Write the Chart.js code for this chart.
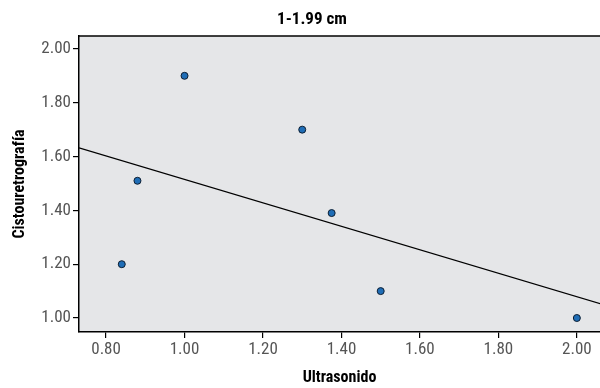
<!DOCTYPE html>
<html>
<head>
<meta charset="utf-8">
<script src="https://cdn.jsdelivr.net/npm/chart.js@4"></script>
<style>
  html, body { margin: 0; padding: 0; background: #fff; overflow: hidden; }
  #wrap { width: 600px; height: 388px; }
</style>
</head>
<body>
<div id="wrap"><canvas id="scatter"></canvas></div>
<script>
// values
var ultrasonido = [0.84, 0.88, 1.00, 1.30, 1.375, 1.50, 2.00];
var cistouretro = [1.20, 1.51, 1.90, 1.70, 1.39, 1.10, 1.00];
var fitX = [0.731, 2.06];
var fitY = [1.632, 1.053];
var xTicks = [0.80, 1.00, 1.20, 1.40, 1.60, 1.80, 2.00];
var yTicks = [1.00, 1.20, 1.40, 1.60, 1.80, 2.00];
var chartTitle = '1-1.99 cm';

var narrow = "'Liberation Sans Narrow', 'Roboto Condensed', 'Liberation Sans', sans-serif";

var points = ultrasonido.map(function (x, i) { return { x: x, y: cistouretro[i] }; });
var fitLine = fitX.map(function (x, i) { return { x: x, y: fitY[i] }; });

// grey plot area, top border and the title
var frame = {
    id: 'frame',
    beforeDraw: function (chart) {
        var c = chart.ctx, a = chart.chartArea;
        c.save();
        c.fillStyle = '#e5e6e8';
        c.fillRect(a.left, a.top, a.right - a.left, a.bottom - a.top);
        c.restore();
    },
    afterDraw: function (chart) {
        var c = chart.ctx, a = chart.chartArea;
        c.save();
        c.strokeStyle = '#000';
        c.lineWidth = 1.5;
        c.beginPath();
        c.moveTo(a.left, a.top);
        c.lineTo(a.right, a.top);
        c.stroke();
        c.fillStyle = '#000';
        c.font = 'bold 17px ' + narrow;
        c.textAlign = 'center';
        c.textBaseline = 'middle';
        c.fillText(chartTitle, 312, 20);
        c.restore();
    }
};

var ctx = document.getElementById('scatter').getContext('2d');
var chart = new Chart(ctx, {
    type: 'scatter',
    data: {
        datasets: [{
            label: 'fit',
            type: 'line',
            data: fitLine,
            borderColor: '#000',
            borderWidth: 1.3,
            pointRadius: 0,
            fill: false
        }, {
            label: 'Cistouretrografía',
            data: points,
            backgroundColor: '#1f6db6',
            borderColor: '#0d1f33',
            borderWidth: 1,
            pointRadius: 3.5
        }]
    },
    options: {
        responsive: true,
        maintainAspectRatio: false,
        animation: false,
        layout: { autoPadding: false, padding: { top: 36, right: 0, left: 0, bottom: 0 } },
        plugins: {
            legend: { display: false },
            tooltip: { enabled: false }
        },
        scales: {
            x: {
                type: 'linear',
                min: 0.731,
                max: 2.059,
                afterBuildTicks: function (s) { s.ticks = xTicks.map(function (v) { return { value: v }; }); },
                afterFit: function (s) { s.height = 56; s.paddingRight = 0; s.paddingLeft = 0; },
                grid: { drawOnChartArea: false, tickLength: 6, color: '#000', lineWidth: 1.2 },
                border: { color: '#000', width: 1.5 },
                ticks: {
                    padding: 2,
                    color: '#555',
                    font: { family: narrow, size: 17 },
                    callback: function (v) { return v.toFixed(2); }
                },
                title: {
                    display: true,
                    text: 'Ultrasonido',
                    color: '#000',
                    font: { family: narrow, size: 16, weight: 'bold' },
                    padding: { top: 6, bottom: 0 }
                }
            },
            y: {
                min: 0.948,
                max: 2.048,
                afterBuildTicks: function (s) { s.ticks = yTicks.map(function (v) { return { value: v }; }); },
                afterFit: function (s) { s.width = 79; },
                grid: { drawOnChartArea: false, tickLength: 6, color: '#000', lineWidth: 1.2 },
                border: { color: '#000', width: 1.5 },
                ticks: {
                    padding: 2,
                    color: '#555',
                    font: { family: narrow, size: 17 },
                    callback: function (v) { return v.toFixed(2); }
                },
                title: {
                    display: true,
                    text: 'Cistouretrografía',
                    color: '#000',
                    font: { family: narrow, size: 16, weight: 'bold' },
                    padding: { top: 10, bottom: 0 }
                }
            }
        }
    },
    plugins: [frame]
});
</script>
</body>
</html>
